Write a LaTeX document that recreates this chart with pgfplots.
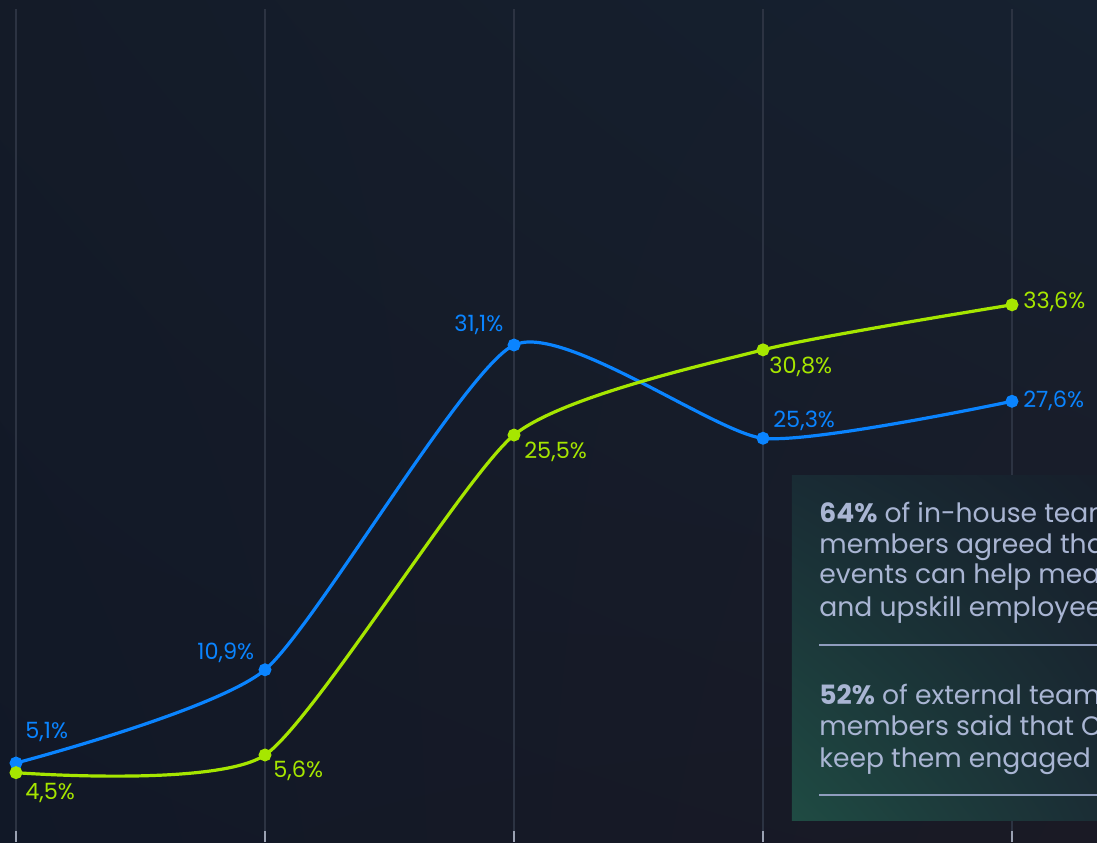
\documentclass[border=0pt]{standalone}
\usepackage{fontspec}
\setmainfont{Poppins}
\usepackage{pgfplots}
\pgfplotsset{compat=1.18}
\usetikzlibrary{shadings}
\definecolor{bgUL}{HTML}{141B28}
\definecolor{bgUR}{HTML}{162130}
\definecolor{bgLL}{HTML}{111827}
\definecolor{bgLR}{HTML}{1A1A25}
\definecolor{gridc}{HTML}{2C3342}
\definecolor{tickc}{HTML}{9AA1B2}
\definecolor{bluel}{HTML}{0A84FF}
\definecolor{greenl}{HTML}{A6E600}
\definecolor{boxUL}{HTML}{192B34}
\definecolor{boxUR}{HTML}{161C29}
\definecolor{boxLL}{HTML}{1F4B43}
\definecolor{boxLR}{HTML}{1A2732}
\definecolor{boxtxt}{HTML}{A9B5D3}
\definecolor{rulec}{HTML}{8F9DBE}
\begin{document}
\begin{tikzpicture}
\begin{axis}[
  width=548.5pt, height=421pt, scale only axis,
  xmin=-0.0643, xmax=4.3414, ymin=0.187, ymax=52.56,
  axis line style={draw=none},
  xtick=\empty, ytick=\empty,
  clip mode=global,
]
% background
\shade[lower left=bgLL, upper left=bgUL, upper right=bgUR, lower right=bgLR]
  (rel axis cs:0,0) rectangle (rel axis cs:1,1);
% grid lines and ticks
\foreach \i in {0,1,2,3,4}{
  \edef\temp{\noexpand\draw[gridc, line width=0.6pt] (axis cs:\i,0.87) -- (axis cs:\i,52.0);
  \noexpand\draw[tickc, line width=0.7pt] (axis cs:\i,0.187) -- (axis cs:\i,0.87);}
  \temp
}
% text box
\shade[lower left=boxLL, upper left=boxUL, upper right=boxUR, lower right=boxLR]
  (axis cs:3.116,1.555) rectangle (axis cs:4.6,23.01);
\begin{scope}[every node/.style={anchor=base west, inner sep=0pt, text=boxtxt, font=\fontsize{13.3}{16}\selectfont}]
\node at (axis cs:3.225,20.09) {\textbf{64\%} of in-house team};
\node at (axis cs:3.225,18.16) {members agreed that};
\node at (axis cs:3.225,16.29) {events can help measure};
\node at (axis cs:3.225,14.24) {and upskill employees};
\node at (axis cs:3.225,8.77) {\textbf{52\%} of external team};
\node at (axis cs:3.225,6.84) {members said that CTFs};
\node at (axis cs:3.225,4.85) {keep them engaged};
\end{scope}
\draw[rulec, line width=1.1pt] (axis cs:3.225,12.44) -- (axis cs:4.6,12.44);
\draw[rulec, line width=1.1pt] (axis cs:3.225,3.11) -- (axis cs:4.6,3.11);
% data
\addplot[bluel, line width=1.6pt, smooth, tension=0.35, mark=*, mark size=2.4pt, mark options={fill=bluel, draw=none}]
  coordinates {(0,5.1) (1,10.9) (2,31.1) (3,25.3) (4,27.6)};
\addplot[greenl, line width=1.6pt, smooth, tension=0.35, mark=*, mark size=2.4pt, mark options={fill=greenl, draw=none}]
  coordinates {(0,4.5) (1,5.6) (2,25.5) (3,30.8) (4,33.6)};
% labels
\begin{scope}[every node/.style={anchor=base west, inner sep=0pt, font=\fontsize{11.2}{13}\selectfont}]
\node[text=bluel] at (axis cs:0.036,6.655) {5,1\%};
\node[text=bluel] at (axis cs:0.727,11.57) {10,9\%};
\node[text=bluel] at (axis cs:1.759,31.91) {31,1\%};
\node[text=bluel] at (axis cs:3.040,25.94) {25,3\%};
\node[text=bluel] at (axis cs:4.044,27.24) {27,6\%};
\node[text=greenl] at (axis cs:0.036,2.80) {4,5\%};
\node[text=greenl] at (axis cs:1.032,4.17) {5,6\%};
\node[text=greenl] at (axis cs:2.040,24.07) {25,5\%};
\node[text=greenl] at (axis cs:3.024,29.30) {30,8\%};
\node[text=greenl] at (axis cs:4.044,33.34) {33,6\%};
\end{scope}
\end{axis}
\pgfresetboundingbox
\useasboundingbox (current axis.south west) rectangle (current axis.north east);
\end{tikzpicture}
\end{document}
